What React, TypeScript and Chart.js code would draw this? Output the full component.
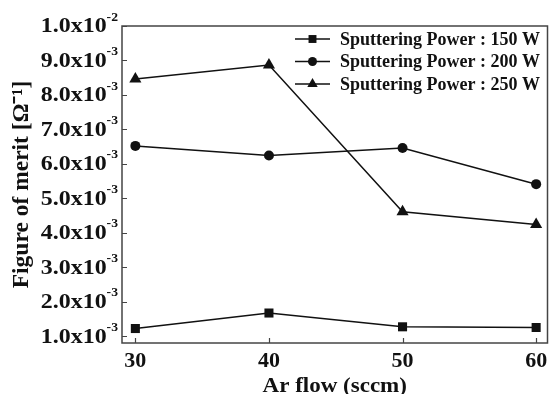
import React, { useEffect, useRef } from "react";
import { Chart, registerables } from "chart.js";

Chart.register(...registerables);

const arFlow = [30, 40, 50, 60];
const power150 = [1.22e-3, 1.67e-3, 1.27e-3, 1.25e-3];
const power200 = [6.52e-3, 6.24e-3, 6.46e-3, 5.41e-3];
const power250 = [8.46e-3, 8.87e-3, 4.61e-3, 4.24e-3];
const seriesLabels = [
  "Sputtering Power : 150 W",
  "Sputtering Power : 200 W",
  "Sputtering Power : 250 W",
];
const yTickMantissa = ["1.0", "2.0", "3.0", "4.0", "5.0", "6.0", "7.0", "8.0", "9.0", "1.0"];
const yTickExponent = ["-3", "-3", "-3", "-3", "-3", "-3", "-3", "-3", "-3", "-2"];
const yTickValues = [1e-3, 2e-3, 3e-3, 4e-3, 5e-3, 6e-3, 7e-3, 8e-3, 9e-3, 1e-2];
const xTickValues = [30, 40, 50, 60];
const xTickLabels = ["30", "40", "50", "60"];
const xTitle = "Ar flow (sccm)";
const yTitle = "Figure of merit [Ω⁻¹]";

const FONT = "'Liberation Serif', 'Times New Roman', serif";
const INK = "#111";

function drawMarker(ctx: CanvasRenderingContext2D, style: string, x: number, y: number, r: number) {
  ctx.beginPath();
  if (style === "rect") {
    const s = Math.SQRT1_2 * r;
    ctx.rect(x - s, y - s, 2 * s, 2 * s);
  } else if (style === "circle") {
    ctx.arc(x, y, r, 0, Math.PI * 2);
  } else {
    const a = -Math.PI / 2;
    for (let k = 0; k < 3; k++) {
      const ang = a + (k * 2 * Math.PI) / 3;
      const px = x + Math.cos(ang) * r;
      const py = y + Math.sin(ang) * r;
      if (k === 0) ctx.moveTo(px, py);
      else ctx.lineTo(px, py);
    }
    ctx.closePath();
  }
  ctx.fill();
}

const framePlugin = {
  id: "frameAndTicks",
  afterDraw(chart: any) {
    const { ctx, chartArea } = chart;
    const { left, right, top, bottom } = chartArea;
    const xs = chart.scales.x;
    const ys = chart.scales.y;
    ctx.save();
    ctx.strokeStyle = "#444";
    ctx.lineWidth = 1.5;
    ctx.strokeRect(left, top, right - left, bottom - top);
    ctx.lineWidth = 1.2;
    ctx.beginPath();
    yTickValues.forEach((v) => {
      const y = Math.round(ys.getPixelForValue(v)) + 0.5;
      ctx.moveTo(left, y);
      ctx.lineTo(left + 5, y);
    });
    xTickValues.forEach((v) => {
      const x = Math.round(xs.getPixelForValue(v)) + 0.5;
      ctx.moveTo(x, bottom);
      ctx.lineTo(x, bottom - 5);
    });
    ctx.stroke();

    ctx.fillStyle = INK;

    // y tick labels with superscript exponents (slightly widened like the reference)
    ctx.textBaseline = "middle";
    yTickValues.forEach((v, i) => {
      const y = ys.getPixelForValue(v);
      const xRight = left - 4;
      ctx.save();
      ctx.translate(xRight, y);
      ctx.scale(1.14, 1);
      ctx.font = `bold 12px ${FONT}`;
      const ew = ctx.measureText(yTickExponent[i]).width;
      ctx.textAlign = "right";
      ctx.fillText(yTickExponent[i], 0, -8.5);
      ctx.font = `bold 21px ${FONT}`;
      ctx.fillText(yTickMantissa[i] + "x10", -ew, 1);
      ctx.restore();
    });

    // x tick labels
    xTickValues.forEach((v, i) => {
      const x = xs.getPixelForValue(v);
      ctx.save();
      ctx.translate(x, 362);
      ctx.scale(1.1, 1);
      ctx.font = `bold 20px ${FONT}`;
      ctx.textAlign = "center";
      ctx.textBaseline = "middle";
      ctx.fillText(xTickLabels[i], 0, 0);
      ctx.restore();
    });

    // x title
    ctx.save();
    ctx.translate((left + right) / 2, 392);
    ctx.scale(1.15, 1);
    ctx.font = `bold 20px ${FONT}`;
    ctx.textAlign = "center";
    ctx.textBaseline = "alphabetic";
    ctx.fillText(xTitle, 0, 0);
    ctx.restore();

    // legend
    const sets = chart.data.datasets;
    const lx = left + 173;
    const ly = top + 13;
    sets.forEach((ds: any, i: number) => {
      const y = ly + i * 22.5;
      ctx.strokeStyle = INK;
      ctx.lineWidth = 1.5;
      ctx.beginPath();
      ctx.moveTo(lx, y);
      ctx.lineTo(lx + 35, y);
      ctx.stroke();
      ctx.fillStyle = INK;
      const r = ds.pointStyle === "rect" ? 5.6 : ds.pointStyle === "circle" ? 4.5 : 6;
      drawMarker(ctx, ds.pointStyle, lx + 17.5, y, r);
      ctx.font = `bold 18px ${FONT}`;
      ctx.textAlign = "left";
      ctx.textBaseline = "middle";
      ctx.fillText(ds.label, lx + 45, y + 1);
    });
    ctx.restore();
  },
};

export default function App() {
  const ref = useRef<HTMLCanvasElement>(null);
  useEffect(() => {
    const mk = (label: string, data: number[], style: string, radius: number) => ({
      label,
      data: arFlow.map((x, i) => ({ x, y: data[i] })),
      borderColor: INK,
      backgroundColor: INK,
      borderWidth: 1.5,
      pointStyle: style,
      pointRadius: radius,
      pointBackgroundColor: INK,
      pointBorderColor: INK,
      pointBorderWidth: 0,
      tension: 0,
      clip: false,
    });
    const chart = new Chart(ref.current!, {
      type: "line",
      data: {
        datasets: [
          mk(seriesLabels[0], power150, "rect", 6.4),
          mk(seriesLabels[1], power200, "circle", 5),
          mk(seriesLabels[2], power250, "triangle", 7),
        ],
      },
      options: {
        animation: false,
        responsive: false,
        devicePixelRatio: 1,
        layout: { autoPadding: false, padding: { top: 26, right: 1.5, left: 0, bottom: 0 } },
        plugins: { legend: { display: false }, tooltip: { enabled: false } },
        scales: {
          x: {
            type: "linear",
            min: 29,
            max: 60.85,
            grid: { display: false, drawTicks: false },
            border: { display: false },
            afterBuildTicks: (s: any) => {
              s.ticks = xTickValues.map((v) => ({ value: v }));
            },
            afterFit: (s: any) => {
              s.height = 51;
              s.paddingLeft = 0;
              s.paddingRight = 0;
            },
            ticks: { display: false },
            title: { display: false },
          },
          y: {
            type: "linear",
            min: 0.8e-3,
            max: 1.0e-2,
            grid: { display: false, drawTicks: false },
            border: { display: false },
            afterBuildTicks: (s: any) => {
              s.ticks = yTickValues.map((v) => ({ value: v }));
            },
            afterFit: (s: any) => {
              s.width = 122;
              s.paddingTop = 0;
              s.paddingBottom = 0;
            },
            ticks: { display: false },
            title: {
              display: true,
              text: yTitle,
              color: INK,
              font: { family: FONT, size: 23.5, weight: "bold" },
              padding: { top: 8, bottom: 0 },
            },
          },
        },
      },
      plugins: [framePlugin],
    } as any);
    return () => chart.destroy();
  }, []);
  return (
    <div style={{ position: "absolute", left: 0, top: 0, width: 549, height: 394, background: "#fff" }}>
      <canvas ref={ref} width={549} height={394} style={{ width: 549, height: 394 }} />
    </div>
  );
}
